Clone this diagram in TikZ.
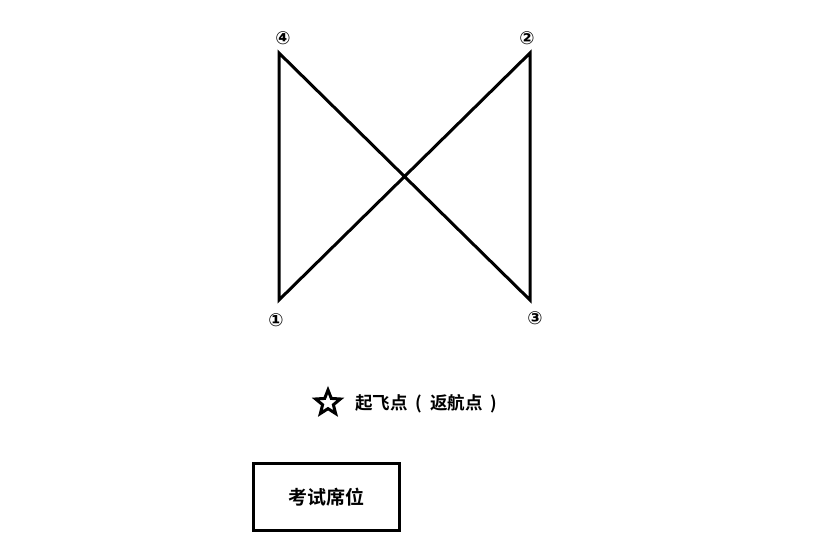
\documentclass[tikz,border=0pt]{standalone}
\usepackage{fontspec}
\usepackage{tikz}
\usetikzlibrary{shapes.geometric}
\newfontfamily\cjk[BoldFont={Noto Sans CJK SC Bold}]{Noto Sans CJK SC}
\newfontfamily\sym{DejaVu Sans}
\tikzset{
  route/.style={line width=3pt},
  mark lbl/.style={inner sep=0pt,font=\sym\fontsize{18}{18}\selectfont\bfseries},
  seat/.style={draw,line width=3pt,minimum width=146pt,minimum height=67pt,inner sep=0pt}
}

\begin{document}
\begin{tikzpicture}[x=1pt,y=-1pt]
      \useasboundingbox (0,0) rectangle (829,548);
      \coordinate (p1) at (279,300);
      \coordinate (p2) at (530,53);
      \coordinate (p3) at (530,300);
      \coordinate (p4) at (279,53);
      \draw[route] (p1) -- (p4) -- (p3) -- (p2) -- cycle;
      \node[mark lbl] (l4) at (283,38) {④};
      \node[mark lbl] (l2) at (527,38) {②};
      \node[mark lbl] (l1) at (276,320) {①};
      \node[mark lbl] (l3) at (535,318) {③};
      \node[star,star points=5,star point ratio=2.3,draw,line width=3pt,
            minimum size=26pt,inner sep=0pt] (home) at (328,403) {};
      \node[inner sep=0pt,anchor=west,font=\cjk\bfseries\fontsize{17.5}{17.5}\selectfont] (homelbl) at (355,404)
        {起飞点\hspace{8pt}(\hspace{8pt}返航点\hspace{8pt})};
      \node[seat,font=\cjk\bfseries\fontsize{19}{19}\selectfont] (desk) at (326.5,497) {考试席位};
    \end{tikzpicture}
\end{document}
